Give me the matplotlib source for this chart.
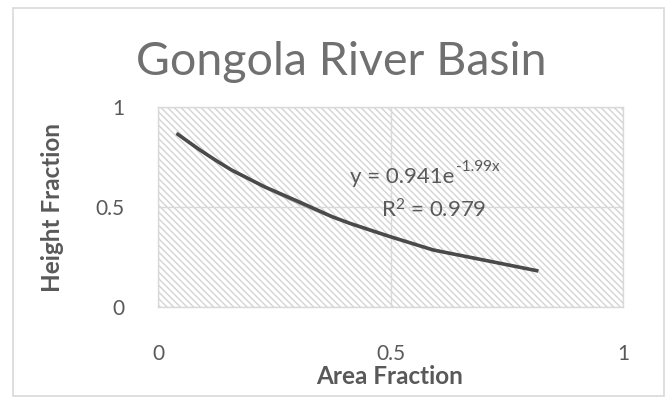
import matplotlib
matplotlib.use("Agg")
import matplotlib.pyplot as plt
from matplotlib.patches import Rectangle
import numpy as np

plt.rcParams['font.family'] = ['Lato', 'DejaVu Sans']
plt.rcParams['mathtext.default'] = 'regular'
plt.rcParams['hatch.linewidth'] = 1.0

# Hypsometric data: area fraction vs height fraction
area_fraction = [0.040, 0.087, 0.123, 0.158, 0.230, 0.302, 0.374, 0.413,
                 0.499, 0.592, 0.700, 0.818]
height_fraction = [0.868, 0.790, 0.735, 0.685, 0.600, 0.527, 0.452, 0.418,
                   0.352, 0.285, 0.235, 0.180]

# Exponential trendline coefficients
fit_a = 0.941
fit_b = -1.99
fit_r2 = 0.979

title = "Gongola River Basin"
x_label = "Area Fraction"
y_label = "Height Fraction"
x_ticks = [0, 0.5, 1]
y_ticks = [0, 0.5, 1]

text_color = '#595959'
grid_color = '#d9d9d9'

fig = plt.figure(figsize=(6.72, 3.99), dpi=100)
fig.patch.set_facecolor('white')

# outer chart border
fig.add_artist(Rectangle((13 / 672, 1 - 396 / 399), (664 - 13) / 672, (396 - 8) / 399,
                         transform=fig.transFigure, fill=False,
                         edgecolor=grid_color, linewidth=1.2))

ax = fig.add_axes([158 / 672, 1 - 307 / 399, 465 / 672, 200 / 399])
ax.set_xlim(0, 1)
ax.set_ylim(0, 1)

# hatched plot area
ax.patch.set_facecolor('white')
ax.add_patch(Rectangle((0, 0), 1, 1, transform=ax.transAxes, facecolor='white',
                       edgecolor='#d4d4d4', hatch='\\\\\\\\\\', linewidth=0, zorder=0))

for s in ax.spines.values():
    s.set_color(grid_color)
    s.set_linewidth(1.0)

ax.set_xticks(x_ticks)
ax.set_yticks(y_ticks)
ax.set_xticklabels(['0', '0.5', '1'])
ax.set_yticklabels(['0', '0.5', '1'])
ax.tick_params(length=0, labelsize=15, labelcolor=text_color)
ax.tick_params(axis='x', pad=27)
ax.tick_params(axis='y', pad=24)
ax.grid(True, color=grid_color, linewidth=1.0)
ax.set_axisbelow(True)

# data curve
ax.plot(area_fraction, height_fraction, color='#4a4a4a', linewidth=2.6,
        solid_capstyle='butt', zorder=3)

# trendline from the fitted equation
xf = np.linspace(area_fraction[0], area_fraction[-1], 200)
ax.plot(xf, fit_a * np.exp(fit_b * xf), color='#b5b5b5', linewidth=1.0, zorder=2)

# trendline equation with a raised exponent
eq = ax.text(0.413, 0.62, f"y = {fit_a:.3f}e", transform=ax.transAxes,
             ha='left', va='baseline', fontsize=16, color=text_color, zorder=4)
ax.annotate(f"{fit_b:.2f}x", xy=(1.0, 0.98), xycoords=eq, xytext=(1, 0),
            textcoords='offset points', ha='left', va='center',
            fontsize=11, color=text_color, zorder=4)
ax.text(0.592, 0.445, f"R$^{{2}}$ = {fit_r2:.3f}", transform=ax.transAxes,
        ha='center', va='baseline', fontsize=16, color=text_color, zorder=4)

fig.text(390 / 672, 1 - 376 / 399, x_label, ha='center', va='center',
         fontsize=17.5, fontweight='bold', color=text_color)
fig.text(53 / 672, 1 - 207 / 399, y_label, ha='center', va='center',
         rotation=90, rotation_mode='anchor', fontsize=17.5,
         fontweight='bold', color=text_color)
fig.text(341 / 672, 1 - 62 / 399, title, ha='center', va='center',
         fontsize=33.5, color='#707070')

fig.savefig('out.png', dpi=100, facecolor='white')
